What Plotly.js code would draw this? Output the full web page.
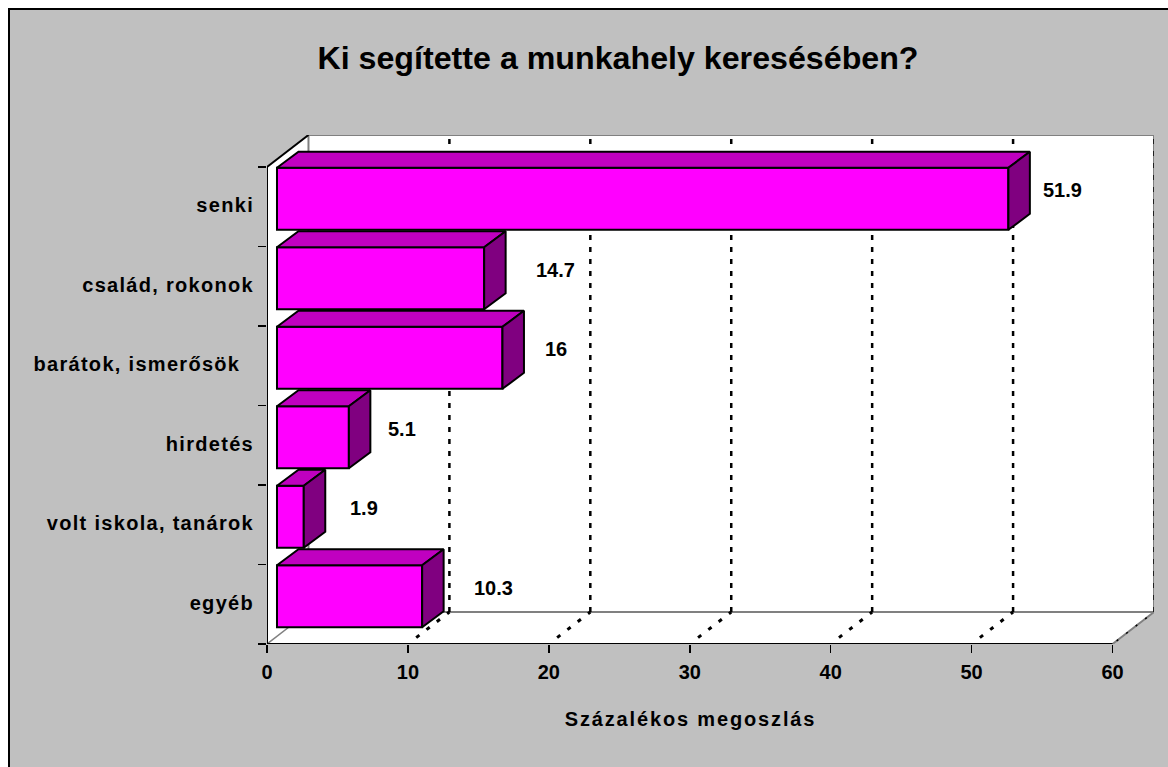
<!DOCTYPE html>
<html><head><meta charset="utf-8">
<script src="https://cdn.plot.ly/plotly-3.0.1.min.js"></script>
<style>
html,body{margin:0;padding:0;background:#fff;overflow:hidden}
#frame{position:absolute;left:8px;top:8px;width:1170px;height:770px;background:#C0C0C0;border:2px solid #000;box-sizing:border-box}
#gd{position:absolute;left:0;top:0;width:1168px;height:767px}
.y2tick text{letter-spacing:1.3px}
.g-xtitle text{letter-spacing:1.85px}
.g-xtitle{transform:translate(-20px,0)}
</style></head><body>
<div id="frame"></div><div id="gd"></div>
<script>
const categories = ["senki","család, rokonok","barátok, ismerősök\u00a0\u00a0","hirdetés","volt iskola, tanárok","egyéb"];
const values = [51.9,14.7,16,5.1,1.9,10.3];
const xTicks = [0,10,20,30,40,50,60];
const labelNudge = [4.55,5.8,4.5,4.47,5,5.75];

const n = categories.length, xMax = 60;
const wallDx = 41.5/14.1, wallDy = 32/79.5;     // 3-D depth of the chart box
const barDx = 21.5/14.1, barDy = 16/79.5;       // 3-D depth of a bar
const frontX = 10/14.1, frontY = 0.1, barH = 0.78;
const yTop = n + wallDy, xTop = xMax + wallDx;

const ypos = categories.map((c,i)=> n-1-i+0.5+frontY);
const ink = {color:'#000',width:2};

const front = {type:'bar',orientation:'h',x:values,y:ypos,base:values.map(()=>frontX),width:barH,
  marker:{color:'#FF00FF',line:{color:'#000',width:2}},hoverinfo:'skip'};

function poly(xs,ys,col){return {type:'scatter',mode:'lines',x:xs,y:ys,fill:'toself',fillcolor:col,line:ink,hoverinfo:'skip',cliponaxis:false};}
const tops = values.map((v,i)=>{const y=ypos[i]+barH/2,a=frontX,b=frontX+v;
  return poly([a,b,b+barDx,a+barDx,a],[y,y,y+barDy,y+barDy,y],'#C000C0');});
const sides = values.map((v,i)=>{const t=ypos[i]+barH/2,u=ypos[i]-barH/2,b=frontX+v;
  return poly([b,b+barDx,b+barDx,b,b],[t,t+barDy,u+barDy,u,t],'#800080');});

const axisLines = {type:'scatter',mode:'lines',x:[0,0,null,0,xMax],y:[n,0,null,0,0],line:{color:'#000',width:2},hoverinfo:'skip',cliponaxis:false};
const labelHost = {type:'scatter',mode:'markers',x:[0],y:[0],yaxis:'y2',marker:{opacity:0},hoverinfo:'skip'};

const line=(x0,y0,x1,y1,color,width,dash)=>({type:'line',layer:'below',xref:'x',yref:'y',x0,y0,x1,y1,line:{color,width,dash:dash||'solid'}});
const shapes=[
 {type:'path',layer:'below',xref:'x',yref:'y',line:{width:0},fillcolor:'#fff',
  path:`M0,0 L0,${n} L${wallDx},${yTop} L${xTop},${yTop} L${xTop},${wallDy} L${xMax},0 Z`},
 line(wallDx,wallDy,xTop,wallDy,'#808080',2),
 line(wallDx,yTop,xTop,yTop,'#808080',2),
 line(wallDx,wallDy,wallDx,yTop,'#808080',2),
 line(xTop,wallDy,xTop,yTop,'#808080',2),
 line(0,0,wallDx,wallDy,'#808080',1.5),
 line(xMax,0,xTop,wallDy,'#808080',2),
 line(0,n,wallDx,yTop,'#000',2)
];
xTicks.slice(1).forEach(t=>{
  const last = t===xMax;
  shapes.push(line(t+wallDx,wallDy,t+wallDx,yTop,'#000',last?1.5:2.5,'5px,7px'));
  const f=last?0.1:0.2;
  shapes.push(line(t+wallDx*f,wallDy*f,t+wallDx,wallDy,'#000',last?1.5:3,last?'2px,10px':'4px,9px'));
});

const annotations = values.map((v,i)=>({x:v+labelNudge[i],y:ypos[i]+0.11,xref:'x',yref:'y',text:String(v),showarrow:false,
  xanchor:'center',yanchor:'middle',font:{family:'Liberation Sans',size:20,color:'#000',weight:700}}));

const tf={family:'Liberation Sans',size:20,color:'#000',weight:700};
const layout={width:1168,height:767,paper_bgcolor:'rgba(0,0,0,0)',plot_bgcolor:'rgba(0,0,0,0)',showlegend:false,
 margin:{l:267,r:13.5,t:135,b:123,pad:0},
 title:{text:'Ki segítette a munkahely keresésében?',font:{family:'Liberation Sans',size:32.2,color:'#000',weight:700},
   x:618/1168,xref:'container',xanchor:'center',y:1-58/767,yref:'container',yanchor:'middle'},
 xaxis:{range:[0,xTop],tickmode:'array',tickvals:xTicks,ticktext:xTicks.map(String),ticks:'outside',ticklen:8,tickwidth:1.5,tickcolor:'#000',
   showline:false,showgrid:false,zeroline:false,tickfont:tf,ticklabelstandoff:2,
   title:{text:'Százalékos megoszlás',font:tf,standoff:29}},
 yaxis:{range:[0,yTop],tickmode:'array',tickvals:categories.map((c,i)=>i).concat([n]),ticktext:Array(n+1).fill(''),ticks:'outside',ticklen:8,tickwidth:1.5,tickcolor:'#000',
   showline:false,showgrid:false,zeroline:false},
 yaxis2:{overlaying:'y',side:'left',range:[0,yTop],tickmode:'array',tickvals:categories.map((c,i)=>n-1-i+0.52),ticktext:categories,
   ticks:'outside',ticklen:8,tickwidth:0,tickcolor:'rgba(0,0,0,0)',showline:false,showgrid:false,zeroline:false,tickfont:tf},
 shapes,annotations,bargap:0};
Plotly.newPlot('gd',[front,...tops,...sides,axisLines,labelHost],layout,{displayModeBar:false,staticPlot:true});
</script></body></html>
